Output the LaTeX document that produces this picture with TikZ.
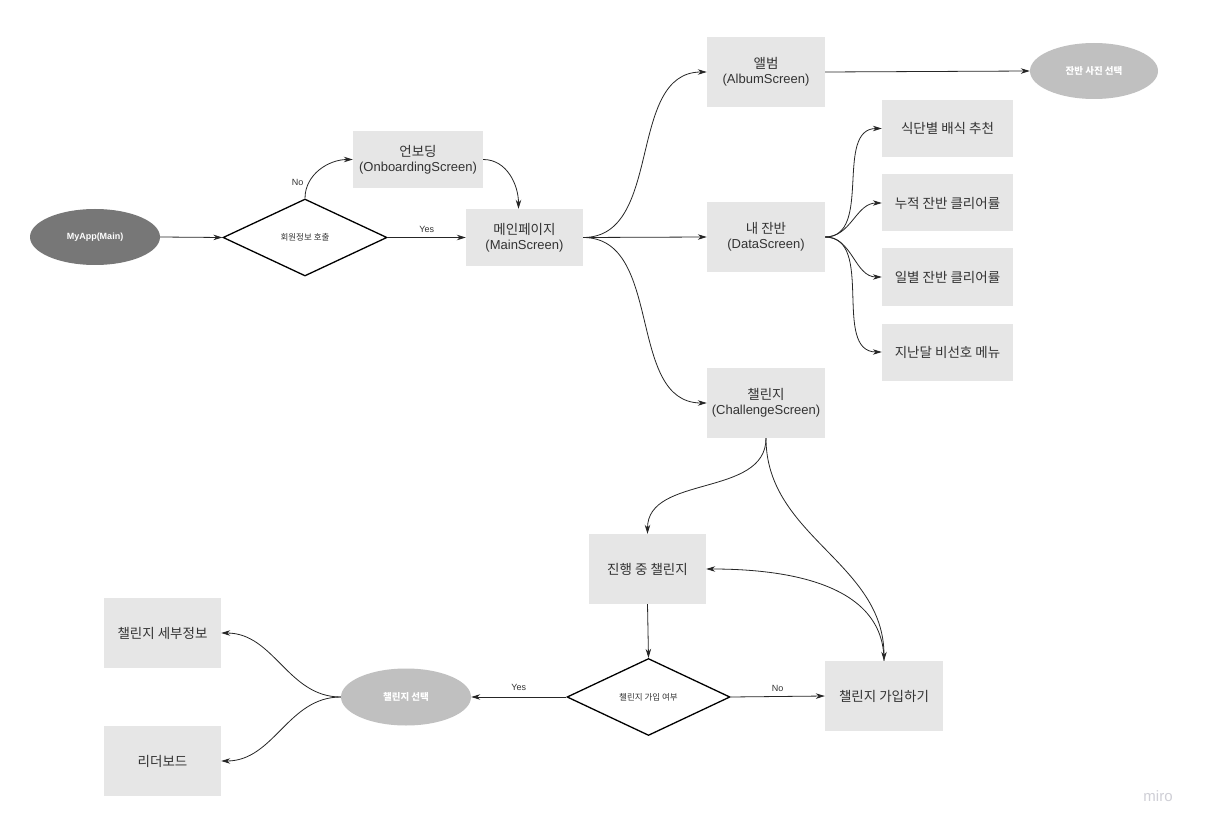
\documentclass[tikz,border=0pt]{standalone}
\usepackage{fontspec}
\setmainfont{Liberation Sans}
\newfontfamily\kr{Noto Sans CJK KR}
\usetikzlibrary{arrows.meta,shapes.geometric}
\definecolor{boxfill}{HTML}{E6E6E6}
\definecolor{txt}{HTML}{333333}
\definecolor{darkell}{HTML}{777777}
\definecolor{lightell}{HTML}{C0C0C0}
\definecolor{wm}{HTML}{CFCFD6}
\begin{document}
\begin{tikzpicture}[x=1pt,y=-1pt,
  screen/.style={rectangle,fill=boxfill,draw=none,text=txt,align=center,font=\fontsize{13}{15}\selectfont},
  krbox/.style={screen,font=\kr\fontsize{13.5}{15}\selectfont},
  term/.style={ellipse,draw=none,text=white,font=\kr\bfseries\fontsize{9.5}{11}\selectfont,inner sep=0pt},
  decision/.style={diamond,draw=black,line width=1.3pt,fill=white,inner sep=0pt,font=\kr\fontsize{8.5}{10}\selectfont,text=txt},
  conn/.style={draw=black!85,line width=0.8pt,-{Stealth[length=9pt,width=5.5pt]}},
  lbl/.style={font=\fontsize{9}{10}\selectfont,text=txt}]
\useasboundingbox (0,0) rectangle (1205,829);
\fill[white] (0,0) rectangle (1205,829);

% nodes
\node[term,fill=darkell,minimum width=130pt,minimum height=56pt,font=\bfseries\fontsize{9}{10}\selectfont] (app) at (95,237) {MyApp(Main)};
\node[decision,minimum width=164pt,minimum height=77pt] (d1) at (305,237.5) {회원정보 호출};
\node[screen,minimum width=130pt,minimum height=57pt] (onb) at (418,159.5) {{\kr\fontsize{13.5}{15}\selectfont 언보딩}\\(OnboardingScreen)};
\node[screen,minimum width=117pt,minimum height=57pt] (main) at (524.5,237.5) {{\kr\fontsize{13.5}{15}\selectfont 메인페이지}\\(MainScreen)};
\node[screen,minimum width=118pt,minimum height=70pt] (album) at (766,72) {{\kr\fontsize{13.5}{15}\selectfont 앨범}\\(AlbumScreen)};
\node[term,fill=lightell,minimum width=128pt,minimum height=56pt] (photo) at (1094,71) {잔반 사진 선택};
\node[screen,minimum width=118pt,minimum height=70pt] (data) at (766,237) {{\kr\fontsize{13.5}{15}\selectfont 내 잔반}\\(DataScreen)};
\node[screen,minimum width=118pt,minimum height=70pt] (chal) at (766,403) {{\kr\fontsize{13.5}{15}\selectfont 챌린지}\\(ChallengeScreen)};
\node[krbox,minimum width=131pt,minimum height=57pt] (r1) at (947.5,128.5) {식단별 배식 추천};
\node[krbox,minimum width=131pt,minimum height=57pt] (r2) at (947.5,203) {누적 잔반 클리어률};
\node[krbox,minimum width=131pt,minimum height=57pt] (r3) at (947.5,277) {일별 잔반 클리어률};
\node[krbox,minimum width=131pt,minimum height=57pt] (r4) at (947.5,352) {지난달 비선호 메뉴};
\node[krbox,minimum width=117pt,minimum height=70pt] (prog) at (647.5,569) {진행 중 챌린지};
\node[krbox,minimum width=118pt,minimum height=70pt] (join) at (884,696) {챌린지 가입하기};
\node[decision,minimum width=163pt,minimum height=77pt] (d2) at (648.5,697) {챌린지 가입 여부};
\node[term,fill=lightell,minimum width=130pt,minimum height=57pt] (sel) at (406,697) {챌린지 선택};
\node[krbox,minimum width=117pt,minimum height=70pt] (det) at (162.5,633) {챌린지 세부정보};
\node[krbox,minimum width=117pt,minimum height=70pt] (lead) at (162.5,761) {리더보드};
\node[text=wm,font=\fontsize{15}{17}\selectfont] (miro) at (1158,796) {miro};

% connectors
\draw[conn] (app.east) -- (d1.west);
\draw[conn] (d1.east) -- node[lbl,above=1pt] {Yes} (main.west);
\draw[conn] (d1.north) to[out=90,in=180] node[lbl,pos=0.25,left=2pt] {No} (onb.west);
\draw[conn] (onb.east) to[out=0,in=90] ([xshift=-6pt]main.north);
\draw[conn] (main.east) to[out=0,in=180] (album.west);
\draw[conn] (main.east) -- (data.west);
\draw[conn] (main.east) to[out=0,in=180] (chal.west);
\draw[conn] (album.east) -- (photo.west);
\draw[conn] (data.east) to[out=0,in=180] (r1.west);
\draw[conn] (data.east) to[out=0,in=180] (r2.west);
\draw[conn] (data.east) to[out=0,in=180] (r3.west);
\draw[conn] (data.east) to[out=0,in=180] (r4.west);
\draw[conn] (chal.south) to[out=-90,in=90] (prog.north);
\draw[conn] (chal.south) to[out=-90,in=90] (join.north);
\draw[conn] (join.north) to[out=90,in=0] (prog.east);
\draw[conn] (prog.south) -- (d2.north);
\draw[conn] (d2.east) -- node[lbl,above=1pt] {No} (join.west);
\draw[conn] (d2.west) -- node[lbl,above=3pt,pos=0.5] {Yes} (sel.east);
\draw[conn] (sel.west) to[out=180,in=0] (det.east);
\draw[conn] (sel.west) to[out=180,in=0] (lead.east);
\end{tikzpicture}
\end{document}
